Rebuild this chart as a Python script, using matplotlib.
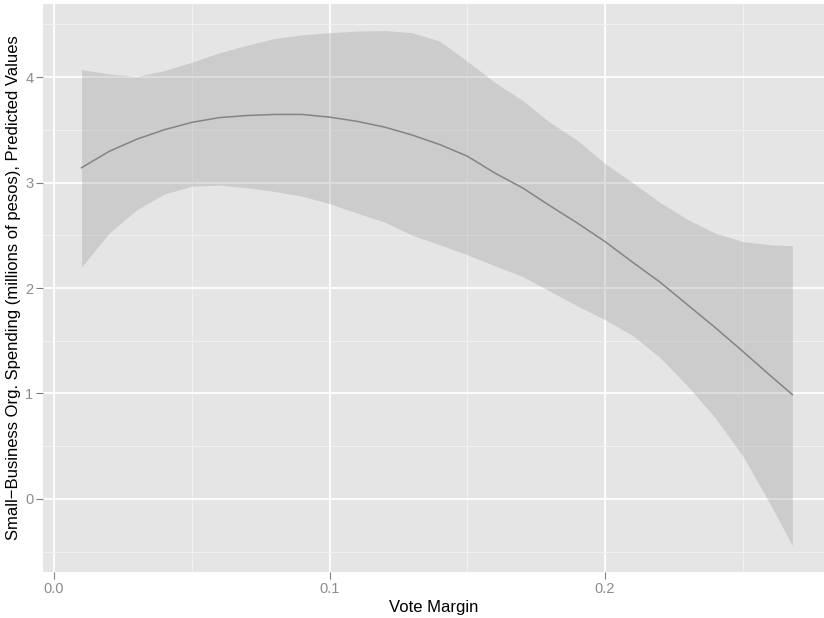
import matplotlib
matplotlib.use("Agg")
import matplotlib.pyplot as plt
from matplotlib.ticker import MultipleLocator

# values
margin = [0.010, 0.020, 0.030, 0.040, 0.050, 0.060, 0.070, 0.080, 0.090,
          0.100, 0.110, 0.120, 0.130, 0.140, 0.150, 0.160, 0.170, 0.180,
          0.190, 0.200, 0.210, 0.220, 0.230, 0.240, 0.250, 0.260, 0.268]
fit = [3.14, 3.295, 3.41, 3.50, 3.57, 3.615, 3.635, 3.645, 3.645,
       3.62, 3.58, 3.525, 3.45, 3.36, 3.25, 3.09, 2.95, 2.78,
       2.615, 2.44, 2.245, 2.055, 1.84, 1.625, 1.40, 1.17, 0.99]
upper = [4.07, 4.03, 4.005, 4.06, 4.14, 4.23, 4.30, 4.365, 4.40,
         4.42, 4.435, 4.44, 4.42, 4.34, 4.15, 3.95, 3.78, 3.57,
         3.40, 3.18, 3.00, 2.81, 2.65, 2.52, 2.44, 2.41, 2.40]
lower = [2.20, 2.52, 2.74, 2.89, 2.965, 2.975, 2.95, 2.915, 2.87,
         2.80, 2.71, 2.625, 2.50, 2.41, 2.315, 2.21, 2.11, 1.97,
         1.83, 1.70, 1.55, 1.34, 1.07, 0.77, 0.41, -0.05, -0.44]

plt.rcParams["font.family"] = ["Liberation Sans", "DejaVu Sans"]

fig = plt.figure(figsize=(8.24, 6.18), dpi=100)
ax = fig.add_axes([43 / 824, 1 - 572 / 618, 1 - 43 / 824, (572 - 4) / 618])

ax.set_facecolor("#E5E5E5")
for s in ax.spines.values():
    s.set_visible(False)

ax.xaxis.set_major_locator(MultipleLocator(0.1))
ax.xaxis.set_minor_locator(MultipleLocator(0.05))
ax.yaxis.set_major_locator(MultipleLocator(1))
ax.yaxis.set_minor_locator(MultipleLocator(0.5))
ax.grid(which="major", color="white", lw=1.3)
ax.grid(which="minor", color="#F2F2F2", lw=0.7)
ax.set_axisbelow(True)

ax.fill_between(margin, lower, upper, color="#999999", alpha=0.32, lw=0)
ax.plot(margin, fit, color="#848484", lw=1.1)

ax.set_xlim(-0.004, 0.2795)
ax.set_ylim(-0.692, 4.692)
ax.set_xticks([0.0, 0.1, 0.2])
ax.set_xticklabels(["0.0", "0.1", "0.2"])
ax.set_yticks([0, 1, 2, 3, 4])
ax.tick_params(which="major", length=5, color="#7F7F7F", labelcolor="#8C8C8C",
               labelsize=10.5, width=0.8, pad=2)
ax.tick_params(which="minor", length=0)

ax.set_xlabel("Vote Margin", fontsize=12, labelpad=3)
ax.set_ylabel("Small\u2212Business Org. Spending (millions of pesos), Predicted Values",
              fontsize=12, labelpad=3)

fig.savefig("out.png", dpi=100)
